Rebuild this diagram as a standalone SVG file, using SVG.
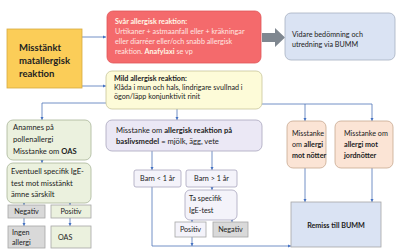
<svg xmlns="http://www.w3.org/2000/svg" width="400" height="250" viewBox="0 0 400 250">
<defs>
<marker id="ah" viewBox="0 0 6 6" refX="6" refY="3" markerWidth="4" markerHeight="4" orient="auto"><path d="M0,0 L6,3 L0,6 z" fill="#4472c4"/></marker>
<style>
text{font-family:Lato,"Open Sans",sans-serif;font-size:7.2px;fill:#222}
.b{font-weight:bold}
.c{stroke:#4f74b8;stroke-width:0.8;fill:none}
.a{marker-end:url(#ah)}
.n{stroke:#a6a6a6;stroke-width:0.8}
</style>
</defs>
<rect width="400" height="250" fill="#ffffff"/>
<g id="connectors">
<path class="c a" d="M82,37 H106"/>
<path class="c a" d="M82,86 H106"/>
<path class="c a" d="M106,103 H42 V120"/>
<path class="c a" d="M262,104 H372 V121"/>
<path class="c a" d="M305,104 V121"/>
<path class="c a" d="M177,109 V120"/>
<path class="c a" d="M42,160 V163"/>
<path class="c a" d="M24,203 V205"/>
<path class="c a" d="M70,203 V205"/>
<path class="c a" d="M24,218 V226"/>
<path class="c a" d="M70,218 V226"/>
<path class="c a" d="M152,151 V170"/>
<path class="c a" d="M212,151 V170"/>
<path class="c a" d="M212,187 V190"/>
<path class="c a" d="M192,220 V222"/>
<path class="c a" d="M232,220 V222"/>
<path class="c a" d="M152,187 V246 H291"/>
<path class="c a" d="M192,237 V246"/>
<path class="c a" d="M305,168 V202"/>
<path class="c a" d="M372,168 V202"/>
<path d="M262,33 H275 V28 L285,37.5 L275,47 V42 H262 z" fill="#7f8790"/>
</g>
<g id="misstankt">
<rect x="7" y="29" width="75" height="59" fill="#fbcd58" stroke="#d8aa40" stroke-width="0.8"/>
<text class="b" x="19" y="51" style="font-size:9.5px">Misstänkt</text>
<text class="b" x="19" y="64" style="font-size:9.5px">matallergisk</text>
<text class="b" x="19" y="77" style="font-size:9.5px">reaktion</text>
</g>
<g id="svar">
<rect x="107" y="11" width="154" height="52" rx="6" fill="#f46a6c" stroke="#e05558" stroke-width="0.8"/>
<text class="b" x="115" y="24" style="fill:#fff8e8">Svår allergisk reaktion:</text>
<text x="115" y="34" style="fill:#ffe6e0">Urtikaner + astmaanfall eller + kräkningar</text>
<text x="115" y="44" style="fill:#ffe6e0">eller diarréer eller/och snabb allergisk</text>
<text x="115" y="54" style="fill:#ffe6e0">reaktion. <tspan class="b" style="fill:#fff8e8">Anafylaxi</tspan> se vp</text>
</g>
<g id="vidare">
<rect x="285" y="13" width="110" height="47" rx="6" fill="#dae3f3" stroke="#a6b0c0" stroke-width="0.8"/>
<text x="292" y="37">Vidare bedömning och</text>
<text x="292" y="47">utredning via BUMM</text>
</g>
<g id="mild">
<rect x="106" y="71" width="156" height="38" rx="6" fill="#fdfbd8" stroke="#c8c59a" stroke-width="0.8"/>
<text class="b" x="114" y="81">Mild allergisk reaktion:</text>
<text x="114" y="90">Klåda i mun och hals, lindrigare svullnad i</text>
<text x="114" y="99">ögon/läpp konjunktivit rinit</text>
</g>
<g id="anamnes">
<rect x="7" y="120" width="84" height="40" rx="6" fill="#ebf1de" stroke="#a8b598" stroke-width="0.8"/>
<text x="13" y="130" style="font-size:7.6px">Anamnes på</text>
<text x="13" y="142" style="font-size:7.6px">pollenallergi</text>
<text x="13" y="154" style="font-size:7.6px">Misstanke om <tspan class="b">OAS</tspan></text>
</g>
<g id="eventuell">
<rect x="7" y="163" width="84" height="40" rx="6" fill="#ebf1de" stroke="#a8b598" stroke-width="0.8"/>
<text x="11" y="174" style="font-size:7.6px">Eventuell specifik IgE-</text>
<text x="11" y="186" style="font-size:7.6px">test mot misstänkt</text>
<text x="11" y="197" style="font-size:7.6px">ämne särskilt</text>
</g>
<g id="negativ1">
<rect x="8" y="205" width="37" height="13" fill="#d9d9d9" class="n"/>
<text x="26.5" y="214" text-anchor="middle">Negativ</text>
</g>
<g id="positiv1">
<rect x="51" y="205" width="40" height="13" fill="#ebf1de" class="n"/>
<text x="71" y="214" text-anchor="middle">Positiv</text>
</g>
<g id="ingen">
<rect x="8" y="226" width="37" height="22" fill="#d9d9d9" class="n"/>
<text x="12" y="235">Ingen</text>
<text x="12" y="245">allergi</text>
</g>
<g id="oas">
<rect x="51" y="226" width="40" height="22" fill="#ebf1de" class="n"/>
<text x="58" y="240">OAS</text>
</g>
<g id="baslivsmedel">
<rect x="106" y="120" width="156" height="31" rx="6" fill="#ebe8f5" stroke="#a8a4bc" stroke-width="0.8"/>
<text x="116" y="133" style="font-size:7.6px">Misstanke om <tspan class="b">allergisk reaktion på</tspan></text>
<text x="116" y="144" style="font-size:7.6px"><tspan class="b">baslivsmedel</tspan> = mjölk, ägg, vete</text>
</g>
<g id="barn1">
<rect x="134" y="170" width="47" height="17" rx="2" fill="#f4f3fa" stroke="#a8a4bc" stroke-width="0.8"/>
<text x="157.5" y="181" text-anchor="middle">Barn &lt; 1 år</text>
</g>
<g id="barn2">
<rect x="186" y="170" width="51" height="17" rx="2" fill="#f4f3fa" stroke="#a8a4bc" stroke-width="0.8"/>
<text x="211.5" y="181" text-anchor="middle">Barn &gt; 1 år</text>
</g>
<g id="taspecifik">
<rect x="185" y="190" width="52" height="30" rx="5" fill="#f4f3fa" stroke="#a8a4bc" stroke-width="0.8"/>
<text x="189" y="201">Ta specifik</text>
<text x="189" y="213">IgE-test</text>
</g>
<g id="positiv2">
<rect x="175" y="222" width="31" height="15" fill="#f4f3fa" class="n"/>
<text x="190.5" y="232" text-anchor="middle">Positiv</text>
</g>
<g id="negativ2">
<rect x="213" y="222" width="35" height="15" fill="#d9d9d9" class="n"/>
<text x="230.5" y="232" text-anchor="middle">Negativ</text>
</g>
<g id="notter">
<rect x="287" y="121" width="39" height="47" rx="6" fill="#fbe4d5" stroke="#c8a890" stroke-width="0.8"/>
<text x="292" y="136">Misstanke</text>
<text x="292" y="147">om <tspan class="b">allergi</tspan></text>
<text x="292" y="158" class="b">mot nötter</text>
</g>
<g id="jordnotter">
<rect x="335" y="121" width="58" height="47" rx="6" fill="#fbe4d5" stroke="#c8a890" stroke-width="0.8"/>
<text x="344" y="136">Misstanke om</text>
<text x="344" y="147" class="b">allergi mot</text>
<text x="344" y="158" class="b">jordnötter</text>
</g>
<g id="remiss">
<rect x="291" y="202" width="90" height="45" fill="#dae3f3" stroke="#a6a6a6" stroke-width="0.8"/>
<text x="336" y="228" text-anchor="middle" class="b">Remiss till BUMM</text>
</g>
</svg>
